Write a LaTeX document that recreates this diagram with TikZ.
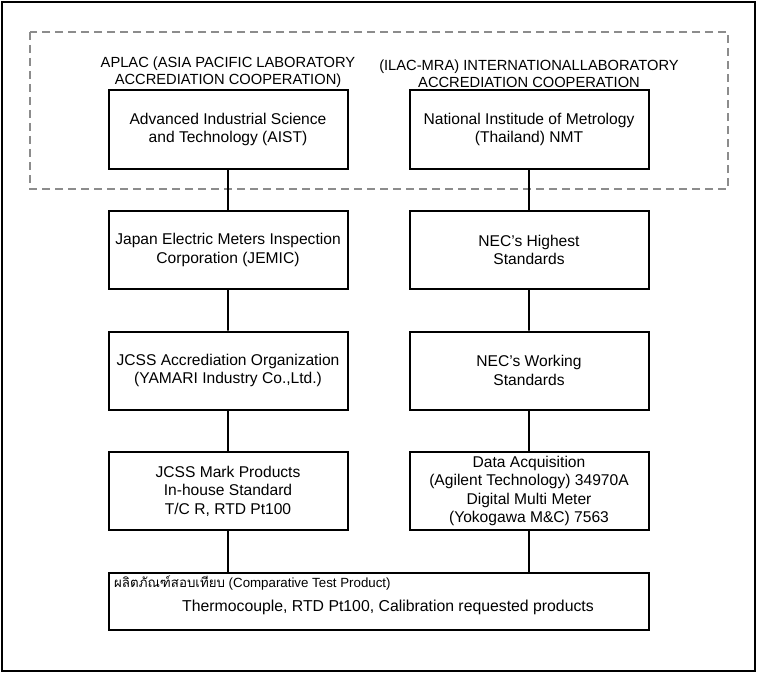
\documentclass[tikz,border=0pt]{standalone}
\usepackage{fontspec}
\setmainfont{Liberation Sans}
\newfontfamily\thaifont[Script=Thai]{Loma}
\usetikzlibrary{positioning}

\tikzset{
    unit/.style = {draw, line width=2pt, minimum width=239pt, minimum height=78pt,
        inner sep=0pt, align=center, font=\fontsize{15.6}{18.6}\selectfont},
    body/.style = {align=center, inner sep=2pt, font=\fontsize{14.7}{16.7}\selectfont},
    link/.style = {line width=1.8pt},
}

\begin{document}
\begin{tikzpicture}[x=1pt, y=-1pt]
    \useasboundingbox (0,0) rectangle (760,674);
    % outer frame and accreditation area
    \draw[line width=2pt] (2,2) rectangle (755,671);
    \draw[black!45, line width=1.5pt, dash pattern=on 8pt off 5pt] (30,32) rectangle (728,189);

    % Japanese chain
    \node[unit] (aist) at (228,129.5) {Advanced Industrial Science\\and Technology (AIST)}
        [level distance=120.5pt, edge from parent/.style={draw, link}]
        child {node[unit] (jemic) {Japan Electric Meters Inspection\\Corporation (JEMIC)}
            child {node[unit] (jcssorg) {JCSS Accrediation Organization\\(YAMARI Industry Co.,Ltd.)}
                child {node[unit] (jcssmark) {JCSS Mark Products\\In-house Standard\\T/C R, RTD Pt100}}}};

    % Thai chain
    \node[unit] (nmt) at (529,129.5) {National Institude of Metrology\\(Thailand) NMT}
        [level distance=120.5pt, edge from parent/.style={draw, link}]
        child {node[unit] (highest) {NEC's Highest\\Standards}
            child {node[unit] (working) {NEC's Working\\Standards}
                child {node[unit] (daq) {Data Acquisition\\(Agilent Technology) 34970A\\Digital Multi Meter\\(Yokogawa M\&C) 7563}}}};

    \node[body, above=0pt of aist] (aplac) {APLAC (ASIA PACIFIC LABORATORY\\ACCREDIATION COOPERATION)};
    \node[body, above=0pt of nmt] (ilac) {(ILAC-MRA) INTERNATIONALLABORATORY\\ACCREDIATION COOPERATION};

    % products under test
    \node[draw, line width=2pt, minimum width=540pt, minimum height=57pt, inner sep=0pt] (prod) at (379,601.5) {};
    \node[anchor=west, inner sep=0pt, font=\fontsize{13.3}{15}\selectfont] (prodtag)
        at ([xshift=6pt, yshift=-11pt]prod.north west) {{\thaifont ผลิตภัณฑ์สอบเทียบ} (Comparative Test Product)};
    \node[inner sep=0pt, font=\fontsize{15.8}{18}\selectfont] (prodlist)
        at ([xshift=9pt, yshift=-5.5pt]prod.center) {Thermocouple, RTD Pt100, Calibration requested products};

    \draw[link] (jcssmark) -- (jcssmark |- prod.north);
    \draw[link] (daq) -- (daq |- prod.north);
\end{tikzpicture}
\end{document}
